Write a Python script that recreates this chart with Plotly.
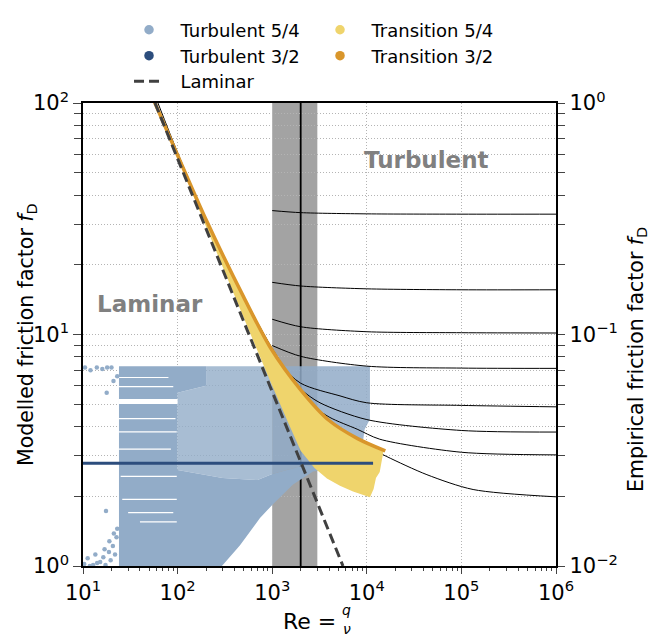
import plotly.graph_objects as go

# ---------------- data ----------------
# Turbulent 5/4 cloud, described by envelopes (Re, modelled f_D)
turb54_dense_re = [24, 24, 200, 200, 100, 100, 300, 700, 1000, 2000, 8470, 8470, 4610, 2700, 1660, 1018, 743, 457, 294]
turb54_dense_f = [1.0, 7.3, 7.3, 6.0, 5.6, 2.6, 2.4, 2.35, 2.5, 2.7, 2.8, 2.74, 2.66, 2.56, 2.25, 1.85, 1.61, 1.23, 1.0]
turb54_sparse_re = [100, 200, 200, 1000, 1000, 700, 300, 100]
turb54_sparse_f = [5.6, 6.0, 7.3, 7.3, 2.5, 2.35, 2.4, 2.6]
turb54_right_re = [1000, 10800, 10800, 9500, 8470, 2000, 1000]
turb54_right_f = [7.3, 7.3, 4.3, 3.9, 2.8, 2.7, 2.5]
turb54_out_re = [10.5, 12, 14, 16, 18, 20, 17.8, 21, 23, 17.5,
                 10.3, 11.2, 12.8, 13.5, 15.2, 16.4, 17.3, 18.8, 19.6, 20.7, 21.8, 22.6, 14.1, 19.0, 21.2, 23.0, 11.8, 16.9]
turb54_out_f = [7.2, 7.0, 7.2, 7.1, 7.2, 7.2, 5.6, 6.3, 6.6, 1.73,
                1.02, 1.08, 1.01, 1.12, 1.04, 1.09, 1.01, 1.15, 1.06, 1.22, 1.12, 1.33, 1.03, 1.28, 1.38, 1.45, 1.0, 1.18]
# empty rows inside the dense block: f, Re from, Re to
gap_f = [6.52, 5.96, 5.13, 4.33, 3.8, 3.2, 2.44, 1.94, 1.70, 1.55]
gap_re_lo = [24, 24, 24, 24, 24, 24, 25, 26, 30, 40]
gap_re_hi = [80, 90, 100, 95, 98, 85, 98, 98, 90, 98]

# Turbulent 3/2
turb32_re = [10, 11650]
turb32_f = [2.78, 2.78]

# Transition 5/4 band (upper edge then lower edge)
trans54_re = [57.7, 100, 203, 500, 948, 2000, 4000, 8000, 15000, 14500, 13700, 12500, 11800, 10800,
              7150, 5200, 3790, 2800, 2000, 1500, 1000, 500, 200, 57.7]
trans54_f = [100, 59.5, 30.9, 14.5, 8.83, 5.77, 4.25, 3.55, 3.12, 2.9, 2.55, 2.4, 2.15, 1.98,
             2.10, 2.22, 2.39, 2.65, 3.15, 4.1, 6.0, 11.8, 29.2, 100]

# Transition 3/2
trans32_re = [57, 100, 203, 500, 948, 2000, 4000, 8000, 15700]
trans32_f = [101, 59.5, 30.9, 14.5, 8.83, 5.77, 4.25, 3.55, 3.14]

# Laminar
lam_re = [57.7, 5600]
lam_f = [100, 1.0]

# Empirical friction factor curves (right-axis values)
emp_curves = [
    ([1e3, 2e3, 1e4, 1e5, 1e6], [0.343, 0.336, 0.332, 0.331, 0.331]),
    ([1e3, 2e3, 1e4, 1e5, 1e6], [0.168, 0.162, 0.1575, 0.156, 0.156]),
    ([1e3, 2e3, 1e4, 1e5, 1e6], [0.1164, 0.108, 0.1028, 0.1018, 0.1015]),
    ([1e3, 2e3, 1e4, 1e5, 1e6], [0.0896, 0.0805, 0.073, 0.0716, 0.0714]),
    ([1e3, 2e3, 5210, 1e4, 1e5, 1e6], [0.080, 0.0616, 0.0543, 0.0507, 0.0494, 0.0487]),
    ([1e3, 2e3, 3200, 1e4, 1e5, 1e6], [0.078, 0.058, 0.0507, 0.0429, 0.0385, 0.0379]),
    ([1e3, 2e3, 4000, 7900, 13700, 1e5, 1e6], [0.076, 0.054, 0.044, 0.039, 0.0353, 0.031, 0.0302]),
    ([62, 100, 200, 500, 1000, 2000, 4000, 8000, 16000, 43200, 133000, 1e6],
     [1.0, 0.61, 0.315, 0.146, 0.087, 0.057, 0.042, 0.0345, 0.0298, 0.0248, 0.0214, 0.0199]),
]

# transition zone
band_re = [1000, 3000]
crit_re = 2000

# axes
x_range = [1, 6]
y_range = [0, 2]      # modelled f_D, log10
y2_range = [-2, 0]    # empirical f_D, log10
x_ticks = [1e1, 1e2, 1e3, 1e4, 1e5, 1e6]
x_ticktext = ["10<sup>1</sup>", "10<sup>2</sup>", "10<sup>3</sup>", "10<sup>4</sup>", "10<sup>5</sup>", "10<sup>6</sup>"]
y_ticks = [1, 10, 100]
y_ticktext = ["10<sup>0</sup>", "10<sup>1</sup>", "10<sup>2</sup>"]
y2_ticks = [0.01, 0.1, 1]
y2_ticktext = ["10<sup>\u22122</sup>", "10<sup>\u22121</sup>", "10<sup>0</sup>"]
x_minor = [k * 10 ** n for n in range(1, 6) for k in range(2, 10)]
y_minor = [k * 10 ** n for n in range(0, 2) for k in range(2, 10)]
y2_minor = [k * 10 ** n for n in range(-2, 0) for k in range(2, 10)]

# scale that maps the right axis onto the left one (both log axes, same span)
R2L = 10 ** (y_range[0] - y2_range[0])

# ---------------- styling ----------------
C_T54 = "#92acc8"
C_T32 = "#2c4d7d"
C_TR54 = "#efd46c"
C_TR32 = "#d9962b"
C_LAM = "#404040"
FONT = "DejaVu Sans"

fig = go.Figure()

def poly(xs, ys, color, opacity=1.0):
    fig.add_trace(go.Scatter(x=xs, y=ys, fill="toself", mode="lines", line=dict(width=0),
                             fillcolor=color, opacity=opacity, hoverinfo="skip", showlegend=False))

poly(turb54_sparse_re, turb54_sparse_f, C_T54, 0.8)
poly(turb54_right_re, turb54_right_f, C_T54, 0.85)
poly(turb54_dense_re, turb54_dense_f, C_T54, 1.0)
for i, g in enumerate(gap_f):
    fig.add_trace(go.Scatter(x=[gap_re_lo[i], gap_re_hi[i]], y=[g, g], mode="lines",
                             line=dict(color="white", width=5 if i == 2 else 1.2),
                             hoverinfo="skip", showlegend=False))
fig.add_trace(go.Scatter(x=turb54_out_re, y=turb54_out_f, mode="markers",
                         marker=dict(color=C_T54, size=4.5), hoverinfo="skip", showlegend=False))

for re_, fe in emp_curves:
    fig.add_trace(go.Scatter(x=re_, y=[v * R2L for v in fe], mode="lines",
                             line=dict(color="black", width=1, shape="spline", smoothing=0.8),
                             hoverinfo="skip", showlegend=False))

poly(trans54_re, trans54_f, C_TR54, 1.0)
fig.add_trace(go.Scatter(x=turb32_re, y=turb32_f, mode="lines", line=dict(color=C_T32, width=3),
                         hoverinfo="skip", showlegend=False))
fig.add_trace(go.Scatter(x=trans32_re, y=trans32_f, mode="lines",
                         line=dict(color=C_TR32, width=3.5, shape="spline", smoothing=0.8),
                         hoverinfo="skip", showlegend=False))
fig.add_trace(go.Scatter(x=lam_re, y=lam_f, mode="lines", line=dict(color=C_LAM, width=3, dash="10px,5px"),
                         hoverinfo="skip", showlegend=False))
# keeps the right axis alive
fig.add_trace(go.Scatter(x=[None], y=[None], yaxis="y2", mode="lines", showlegend=False, hoverinfo="skip"))

# legend entries: one legend per row, two columns
NB = "\u00a0\u00a0"
for name, col, lg in [("Turbulent 5/4", C_T54, "legend"), ("Transition 5/4", C_TR54, "legend"),
                      ("Turbulent 3/2", C_T32, "legend2"), ("Transition 3/2", C_TR32, "legend2")]:
    fig.add_trace(go.Scatter(x=[None], y=[None], mode="markers", name=NB + name,
                             marker=dict(color=col, size=9.5), legend=lg))
fig.add_trace(go.Scatter(x=[None], y=[None], mode="lines", name=NB + "Laminar",
                         line=dict(color=C_LAM, width=3, dash="10px,5px"), legend="legend3"))

fig.add_vrect(x0=band_re[0], x1=band_re[1], fillcolor="#a3a3a3", line_width=0, layer="below")
fig.add_vline(x=crit_re, line=dict(color="black", width=1.8), layer="below")

grid = dict(showgrid=True, gridcolor="#b4b4b4", griddash="1px,2px", gridwidth=0.8)
leg = dict(orientation="h", x=0.0973, xanchor="left", yanchor="top", font=dict(size=18),
           entrywidth=146, entrywidthmode="pixels", bgcolor="rgba(0,0,0,0)", itemclick=False)
fig.update_layout(
    width=655, height=638, autosize=False,
    margin=dict(l=83, r=99, t=95, b=72),
    paper_bgcolor="white", plot_bgcolor="white",
    font=dict(family=FONT, size=21, color="black"),
    xaxis=dict(type="log", range=x_range, tickvals=x_ticks, ticktext=x_ticktext,
               ticks="outside", ticklen=6, tickwidth=1.2, showline=True, linecolor="black",
               linewidth=1.5, mirror=True, zeroline=False, ticklabelstandoff=1,
               minor=dict(tickvals=x_minor, ticks="outside", ticklen=3.5, tickwidth=1, showgrid=False),
               **grid),
    yaxis=dict(type="log", range=y_range, tickvals=y_ticks, ticktext=y_ticktext,
               ticks="outside", ticklen=8, tickwidth=1.2, showline=True, linecolor="black",
               linewidth=1.5, zeroline=False,
               minor=dict(tickvals=y_minor, ticks="outside", ticklen=7, tickwidth=1, **grid),
               **grid),
    yaxis2=dict(type="log", range=y2_range, overlaying="y", side="right", anchor="x",
                tickvals=y2_ticks, ticktext=y2_ticktext, ticks="outside", ticklen=7.5, tickwidth=1.2,
                showline=True, linecolor="black", linewidth=1.5, showgrid=False, zeroline=False,
                minor=dict(tickvals=y2_minor, ticks="outside", ticklen=7.5, tickwidth=1, showgrid=False)),
    legend=dict(y=1.1975, **leg),
    legend2=dict(y=1.1416, **leg),
    legend3=dict(y=1.0864, **leg),
    showlegend=True,
)

ann = [
    dict(text="<b>Laminar</b>", x=0.1416, y=0.566, font=dict(size=23, color="#808080")),
    dict(text="<b>Turbulent</b>", x=0.727, y=0.877, font=dict(size=23, color="#808080")),
    dict(text="Re =", x=0.478, y=-0.119, font=dict(size=22)),
    dict(text="<i>q</i>", x=0.558, y=-0.096, font=dict(size=14)),
    dict(text="<i>\u03bd</i>", x=0.558, y=-0.137, font=dict(size=14)),
    dict(text="Modelled friction factor <i>f</i><sub>D</sub>", x=-0.1184, y=0.501, textangle=-90,
         font=dict(size=20.5)),
    dict(text="Empirical friction factor <i>f</i><sub>D</sub>", x=1.17, y=0.446, textangle=-90,
         font=dict(size=20.5)),
]
for a in ann:
    fig.add_annotation(xref="paper", yref="paper", showarrow=False, xanchor="center", yanchor="middle", **a)

fig.write_html("out.html")
